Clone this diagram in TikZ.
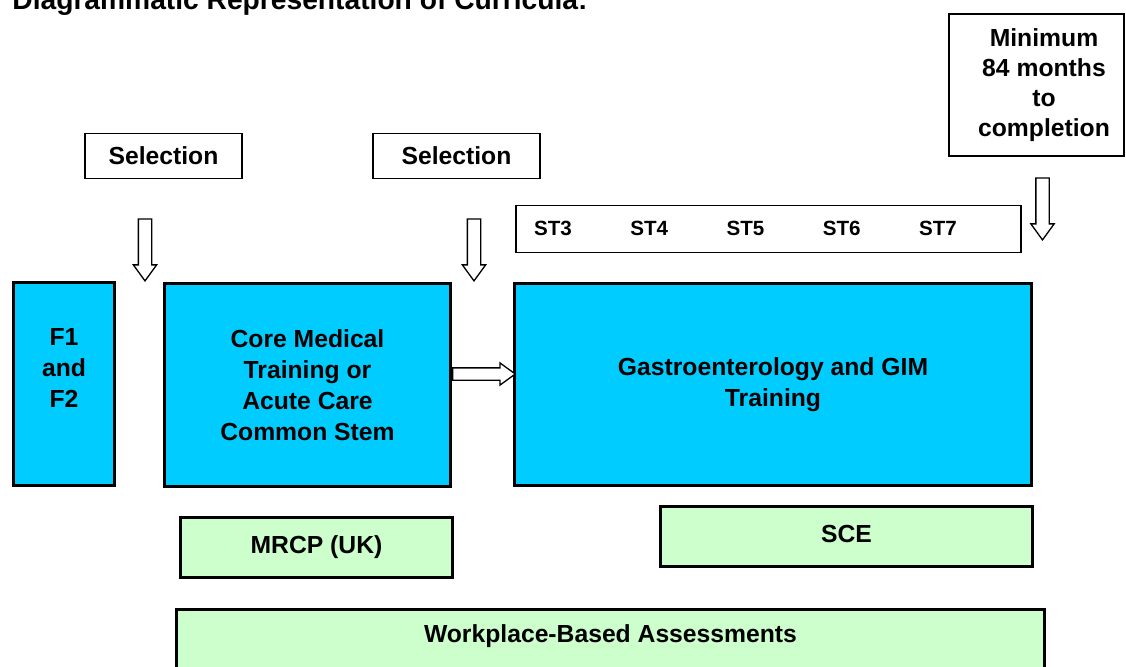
\documentclass[tikz,border=0pt]{standalone}
\usepackage{fontspec}
\setmainfont{Liberation Sans}
\usetikzlibrary{shapes.arrows}
\definecolor{stemcyan}{HTML}{00CCFF}
\definecolor{exampale}{HTML}{CCFFCC}
\tikzset{
  bodyfont/.style={font=\fontsize{12.35}{15.5}\selectfont\bfseries},
  trainbox/.style={draw, line width=1.6pt, fill=stemcyan, inner sep=0pt, bodyfont, align=center},
  exambox/.style={draw, line width=1.7pt, fill=exampale, inner sep=0pt, bodyfont, align=center},
  plainbox/.style={draw, line width=0.75pt, inner sep=0pt, bodyfont, align=center},
  boxtext/.style={bodyfont, align=center, inner sep=0pt},
  blockarrow/.style={single arrow, draw, line width=0.65pt, fill=white, inner xsep=0pt,
    inner ysep=3pt, minimum width=11pt, minimum height=31pt, single arrow head extend=2.5pt,
    single arrow tip angle=72}
}
\begin{document}
\begin{tikzpicture}[x=0.5pt, y=-0.5pt]
    \useasboundingbox (0,0) rectangle (1126,666);

    \node[anchor=base west, inner sep=0pt, font=\fontsize{14.1}{17}\selectfont\bfseries]
          (title) at (12,9) {Diagrammatic Representation of Curricula:};

    % selection and duration
    \node[plainbox, minimum width=78.5pt, minimum height=22.5pt] (sel1) at (163.5,156) {Selection};
    \node[plainbox, minimum width=83.5pt, minimum height=22.5pt] (sel2) at (456.5,156) {Selection};
    \node[plainbox, minimum width=87.5pt, minimum height=71pt] (minbox) at (1036.5,85) {};
    \node[boxtext, font=\fontsize{12.35}{15}\selectfont\bfseries] (mintext) at (1044,85)
          {Minimum\\84 months\\to\\completion};

    % specialty years
    \node[plainbox, minimum width=252.5pt, minimum height=23.5pt] (stbar) at (768.25,229) {};
    \foreach \s [count=\i from 0] in {3,...,7}
      \node[boxtext, font=\fontsize{10.3}{12}\selectfont\bfseries] (st\s) at (553+96.25*\i,228) {ST\s};

    % training blocks
    \node[trainbox, minimum width=50.5pt, minimum height=101.5pt] (f1) at (64,384) {};
    \node[boxtext] (f1text) at ([yshift=8pt]f1.center) {F1\\and\\F2};
    \node[trainbox, minimum width=143pt, minimum height=101.5pt] (core) at (307.5,385)
          {Core Medical\\Training or\\Acute Care\\Common Stem};
    \node[trainbox, minimum width=258.5pt, minimum height=101pt] (gi) at (773,384.5)
          {Gastroenterology and GIM\\Training};

    % assessments
    \node[exambox, minimum width=136pt, minimum height=30pt] (mrcp) at (316.5,547.5) {MRCP (UK)};
    \node[exambox, minimum width=186pt, minimum height=30pt] (sce) at (846.5,536.5) {};
    \node[boxtext] (scetext) at (846.5,534) {SCE};
    \node[exambox, minimum width=434pt, minimum height=36pt] (wpba) at (610.5,645.5) {};
    \node[boxtext] (wpbatext) at (610.5,636) {Workplace-Based Assessments};

    % hollow arrows
    \node[blockarrow, rotate=-90, anchor=tip] (arr1) at (145,282) {};
    \node[blockarrow, rotate=-90, anchor=tip] (arr2) at (474,282) {};
    \node[blockarrow, rotate=-90, anchor=tip] (arr3) at (1042.5,241) {};
    \node[blockarrow, anchor=tail, inner ysep=2.75pt, minimum height=31.25pt]
          (harr) at ([yshift=5.5pt]core.east) {};
  \end{tikzpicture}
\end{document}
